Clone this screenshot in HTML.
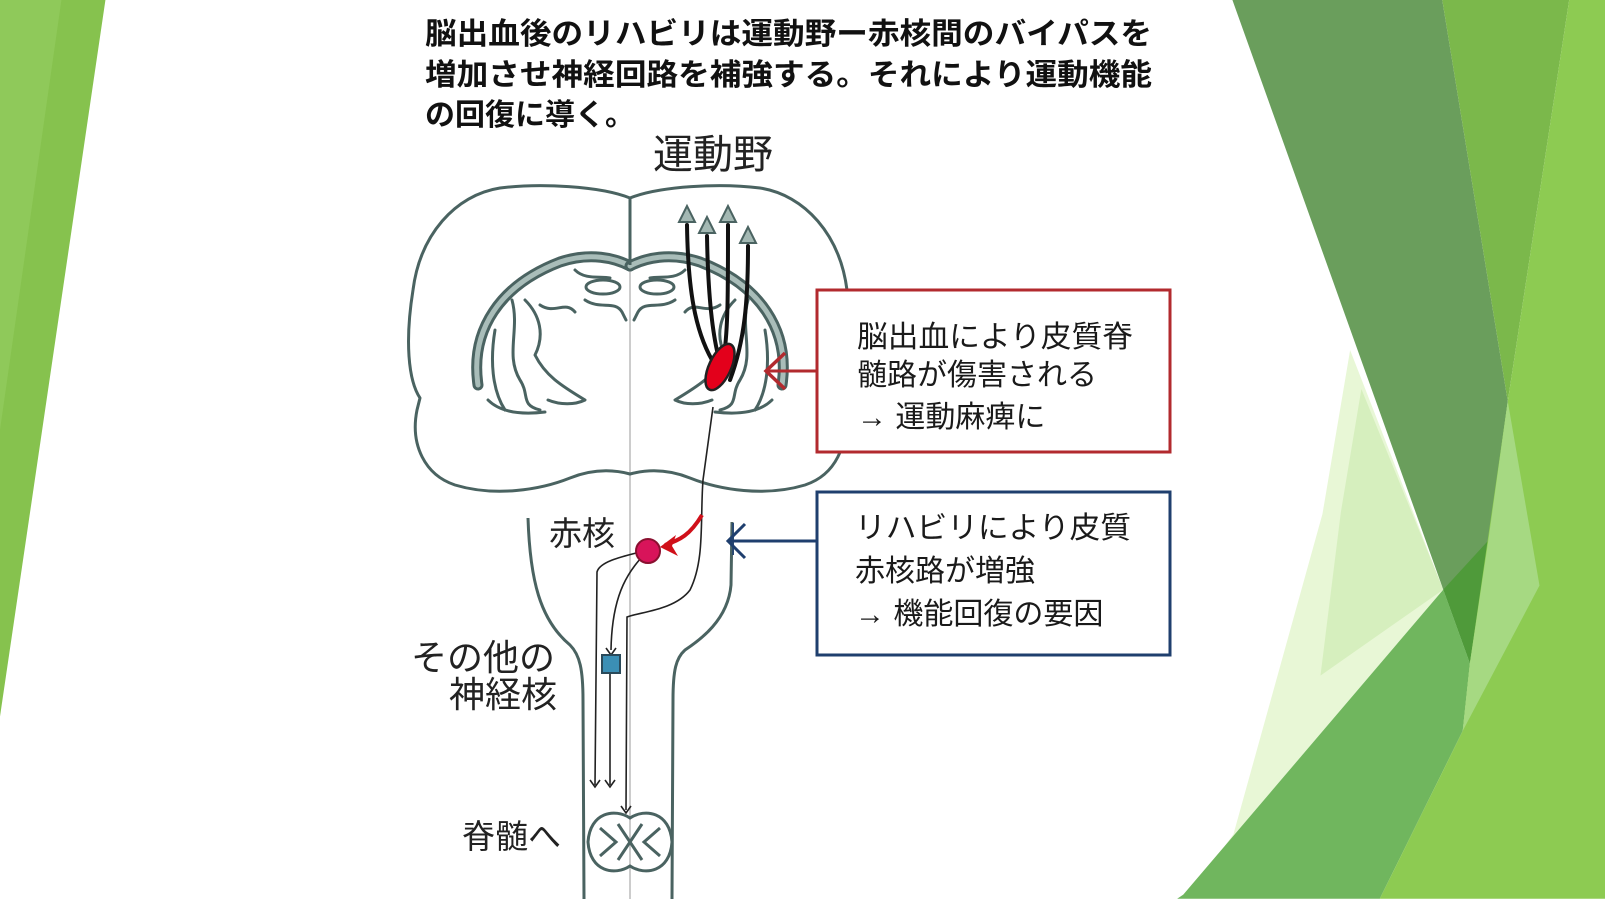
<!DOCTYPE html>
<html><head><meta charset="utf-8"><style>
html,body{margin:0;padding:0;background:#fff;overflow:hidden}
svg{display:block}
text{font-family:"Liberation Sans","Noto Sans CJK JP",sans-serif}
</style></head><body>
<svg width="1605" height="899" viewBox="0 0 1605 899" xmlns="http://www.w3.org/2000/svg">
<rect width="1605" height="899" fill="#fff"/>
<g transform="scale(1.0236)">
  <polygon points="0,0 103,0 0,700" fill="#86c24e"/>
  <polygon points="0,0 60,0 0,420" fill="#8fc95a"/>
  <polygon points="1319,342 1410,576 1156,874 1176,854 1205,815 1292,502" fill="#e8f7d6"/>
  <polygon points="1330,380 1410,576 1290,660 1310,500" fill="#d6efbe"/>
  <polygon points="1204,0 1409,0 1473,392 1454,528 1436,648 1410,576" fill="#6a9e5c"/>
  <polygon points="1409,0 1533,0 1473,392" fill="#7bb84b"/>
  <polygon points="1410,576 1454,528 1436,648" fill="#4f9a3a"/>
  <polygon points="1150,878 1156,874 1410,576 1436,648 1429,714 1348,878" fill="#70b65e"/>
  <polygon points="1533,0 1568,0 1568,878 1348,878 1429,714 1436,648 1473,392" fill="#8dcb52"/>
  <polygon points="1473,392 1504,572 1429,714 1436,648 1454,528" fill="#a6d982"/>
</g>

<g font-weight="bold" font-size="30" fill="#111">
  <text x="425" y="44" textLength="727" lengthAdjust="spacingAndGlyphs">脳出血後のリハビリは運動野ー赤核間のバイパスを</text>
  <text x="425" y="85" textLength="727" lengthAdjust="spacingAndGlyphs">増加させ神経回路を補強する。それにより運動機能</text>
  <text x="425" y="125">の回復に導く。</text>
</g>
<text x="653" y="168" font-size="40" fill="#222">運動野</text>

<line x1="630" y1="265" x2="630" y2="899" stroke="#bbb" stroke-width="1.5"/>

<g id="half" fill="none" stroke="#4a6361" stroke-linecap="round" stroke-linejoin="round">
  <path d="M630,198 C600,186 540,183 500,188 C455,195 420,235 413,290 C405,340 408,380 420,398 L417,410 C410,445 425,475 455,485 C495,497 540,490 570,478 C595,468 615,470 630,474" stroke-width="3"/>
  <path d="M478,385 C470,330 500,285 560,262 C590,252 615,258 630,266" stroke-width="11"/>
  <path d="M478,385 C470,330 500,285 560,262 C590,252 615,258 630,266" stroke="#a9bdb9" stroke-width="5"/>
  <ellipse cx="603" cy="287" rx="17" ry="7" stroke-width="3" fill="#fff"/>
  <path d="M585,300 C600,310 615,300 622,312 L626,320" stroke-width="3"/>
  <path d="M575,270 C585,280 600,276 610,278" stroke-width="3"/>
  <path d="M512,300 C520,330 505,355 520,380 C530,395 520,405 540,410" stroke-width="3"/>
  <path d="M525,300 C540,315 545,335 535,355 C545,375 560,385 585,400 C575,405 560,405 548,400" stroke-width="3"/>
  <path d="M495,330 C490,360 492,390 505,410" stroke-width="3"/>
  <path d="M488,400 C500,412 520,415 545,412" stroke-width="3"/>
  <path d="M540,305 C555,315 565,300 575,312" stroke-width="3"/>
</g>
<use href="#half" transform="translate(1260,0) scale(-1,1)"/>
<line x1="630" y1="198" x2="630" y2="265" stroke="#4a6361" stroke-width="3"/>

<g fill="none" stroke="#111" stroke-width="4" stroke-linecap="round">
  <path d="M687,225 C688,290 695,330 712,360"/>
  <path d="M707,236 C708,295 712,330 718,355"/>
  <path d="M728,225 C728,290 728,330 724,355"/>
  <path d="M748,246 C748,300 745,340 730,380"/>
</g>
<g fill="#a3b8b3" stroke="#4a6361" stroke-width="2">
  <polygon points="687,206 679,222 695,222"/>
  <polygon points="707,217 699,233 715,233"/>
  <polygon points="728,206 720,222 736,222"/>
  <polygon points="748,227 740,243 756,243"/>
</g>
<ellipse cx="720" cy="367" rx="11" ry="25" transform="rotate(25 720 367)" fill="#e3001b" stroke="#222" stroke-width="2.5"/>
<line x1="817" y1="371" x2="768" y2="371" stroke="#b22a2e" stroke-width="3"/>
<polyline points="785,353 766,371 785,389" fill="none" stroke="#b22a2e" stroke-width="3.5"/>

<g fill="none" stroke="#4a6361" stroke-width="3">
  <path d="M528,518 C530,580 540,620 570,645 C580,655 583,670 583,700 L584,899"/>
  <path d="M732,522 L731,585 C728,620 700,640 685,650 C676,658 673,670 673,700 L672,899"/>
</g>
<line x1="733" y1="523" x2="733" y2="555" stroke="#2b4a72" stroke-width="2"/>
<line x1="817" y1="541" x2="728" y2="541" stroke="#1f3f6e" stroke-width="3"/>
<polyline points="745,524 728,541 745,558" fill="none" stroke="#1f3f6e" stroke-width="3"/>

<g fill="none" stroke="#222" stroke-width="1.6">
  <path d="M713,407 L703,480 C700,520 705,560 690,590 C675,610 640,612 627,617 L626,810"/>
  <path d="M648,550 C630,555 600,560 597,572 L595,785"/>
  <path d="M648,550 C630,570 612,590 611,650"/>
  <path d="M610,673 L610,785"/>
</g>
<g fill="none" stroke="#222" stroke-width="1.6">
  <polyline points="590,780 595,787 600,780"/>
  <polyline points="605,780 610,787 615,780"/>
  <polyline points="621,806 626,813 631,806"/>
  <polyline points="606,648 611,655 616,648"/>
</g>
<path d="M702,515 C690,535 680,540 665,545" fill="none" stroke="#d0101a" stroke-width="4"/>
<polygon points="660,547 676,535 672,546 678,556" fill="#d0101a"/>
<circle cx="648" cy="551" r="12" fill="#d8145a" stroke="#8a1030" stroke-width="2"/>
<rect x="602" y="655" width="18" height="18" fill="#3b8fb5" stroke="#2a4a5a" stroke-width="2"/>

<g fill="none" stroke="#4a6361" stroke-width="3">
  <path d="M630,818 C615,808 590,812 588,842 C590,872 615,876 630,866 C645,876 670,872 672,842 C670,812 645,808 630,818 Z"/>
  <path d="M600,828 L616,842 L600,856 M660,828 L644,842 L660,856 M618,824 L642,860 M642,824 L618,860"/>
</g>

<g font-size="33" fill="#222">
  <text x="549" y="545">赤核</text>
  <text x="411" y="670" font-size="36">その他の</text>
  <text x="449" y="707" font-size="36">神経核</text>
  <text x="462" y="848">脊髄へ</text>
</g>

<rect x="817" y="290" width="353" height="162" fill="#fff" stroke="#b22a2e" stroke-width="3"/>
<rect x="817" y="492" width="353" height="163" fill="#fff" stroke="#1f3f6e" stroke-width="3"/>
<g font-size="30" fill="#1a1a1a">
  <text x="857" y="347" textLength="276" lengthAdjust="spacingAndGlyphs">脳出血により皮質脊</text>
  <text x="857" y="385">髄路が傷害される</text>
  <text x="857" y="427">→ 運動麻痺に</text>
  <text x="855" y="538" textLength="276" lengthAdjust="spacingAndGlyphs">リハビリにより皮質</text>
  <text x="855" y="581">赤核路が増強</text>
  <text x="855" y="624">→ 機能回復の要因</text>
</g>
</svg>
</body></html>
